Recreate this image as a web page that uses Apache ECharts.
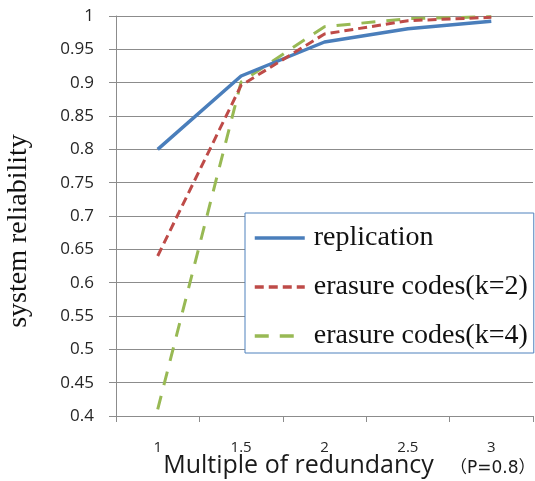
<!DOCTYPE html>
<html>
<head>
<meta charset="utf-8">
<script src="https://cdn.jsdelivr.net/npm/echarts@6/dist/echarts.min.js"></script>
<style>
  html, body { margin: 0; padding: 0; background: #fff; }
  #chart { width: 535px; height: 481px; }
</style>
</head>
<body>
<div id="chart"></div>
<script>
// 冗余倍数
const categories = ['1', '1.5', '2', '2.5', '3']
// 各方案的系统可靠性
const replication = [0.8, 0.91, 0.961, 0.981, 0.992]
const erasureK2 = [0.64, 0.896, 0.973, 0.993, 0.998]
const erasureK4 = [0.41, 0.901, 0.984, 0.996, 0.999]
const seriesNames = ['replication', 'erasure codes(k=2)', 'erasure codes(k=4)']

const chart = echarts.init(document.getElementById('chart'))
const option = {
  animation: false,
  grid: {
    left: 116,
    right: 2,
    top: 16,
    bottom: 65,
    outerBoundsMode: 'none'
  },
  legend: {
    orient: 'vertical',
    left: 245,
    top: 213,
    padding: [11, 6, 3, 8],
    itemWidth: 50,
    itemHeight: 14,
    itemGap: 21,
    backgroundColor: '#fff',
    borderColor: '#4f81bd',
    borderWidth: 1,
    itemStyle: { opacity: 0 },
    lineStyle: { width: 3.5 },
    textStyle: {
      fontFamily: 'Liberation Serif',
      fontSize: 28,
      color: '#111',
      padding: [0, 0, 0, 4]
    },
    data: seriesNames
  },
  xAxis: {
    type: 'category',
    data: categories,
    boundaryGap: true,
    name: 'Multiple of redundancy',
    nameLocation: 'middle',
    nameGap: 37,
    nameMoveOverlap: false,
    nameTextStyle: {
      fontFamily: 'Open Sans',
      fontSize: 25,
      color: '#1a1a1a',
      padding: [0, 52, 0, 0]
    },
    axisLine: { lineStyle: { color: '#8c8c8c', width: 1 } },
    axisTick: { show: true, length: 6, lineStyle: { color: '#8c8c8c' } },
    axisLabel: {
      margin: 24,
      fontFamily: 'Open Sans',
      fontSize: 15,
      color: '#262626'
    },
    splitLine: { show: false }
  },
  yAxis: {
    type: 'value',
    min: 0.4,
    max: 1,
    interval: 0.05,
    name: 'system reliability',
    nameLocation: 'middle',
    nameGap: 83,
    nameMoveOverlap: false,
    nameTextStyle: {
      fontFamily: 'Liberation Serif',
      fontSize: 28,
      color: '#111',
      padding: [0, 30, 0, 0]
    },
    axisLine: { show: true, lineStyle: { color: '#8c8c8c', width: 1 } },
    axisTick: { show: true, length: 7, lineStyle: { color: '#8c8c8c' } },
    axisLabel: {
      margin: 22,
      fontFamily: 'Open Sans',
      fontSize: 17,
      color: '#262626',
      formatter: v => String(+v.toFixed(2))
    },
    splitLine: { lineStyle: { color: '#8c8c8c', width: 1 } }
  },
  graphic: [
    {
      type: 'text',
      left: 450,
      top: 460,
      style: {
        text: '（P=0.8）',
        fontFamily: 'DejaVu Sans, Noto Sans CJK SC',
        fontSize: 17,
        fill: '#1a1a1a'
      }
    }
  ],
  series: [
    {
      name: seriesNames[0],
      type: 'line',
      data: replication,
      symbol: 'none',
      z: 3,
      lineStyle: { color: '#4a7ebb', width: 3.5 },
      itemStyle: { color: '#4a7ebb' }
    },
    {
      name: seriesNames[1],
      type: 'line',
      data: erasureK2,
      symbol: 'none',
      z: 4,
      lineStyle: { color: '#be4b48', width: 3, type: [9, 5] },
      itemStyle: { color: '#be4b48' }
    },
    {
      name: seriesNames[2],
      type: 'line',
      data: erasureK4,
      symbol: 'none',
      z: 2,
      lineStyle: { color: '#98b954', width: 3, type: [14, 11] },
      itemStyle: { color: '#98b954' }
    }
  ]
}
chart.setOption(option)
</script>
</body>
</html>
